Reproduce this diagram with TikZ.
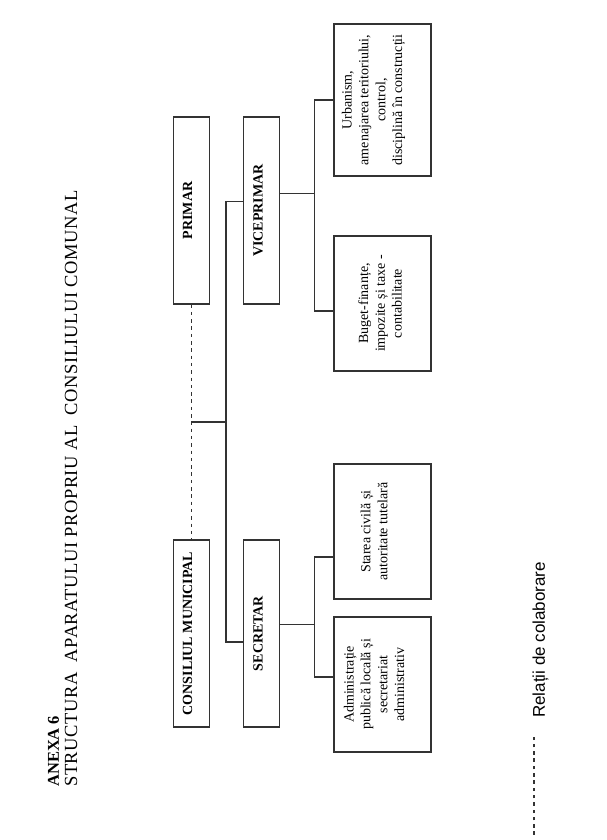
\documentclass[tikz,border=0pt]{standalone}
\usepackage{fontspec}
\setmainfont{Liberation Serif}
\newfontfamily\legendfont{Liberation Sans}
\newfontfamily\titlefont[LetterSpace=3]{Liberation Serif}
\usepackage{graphicx}
\usetikzlibrary{calc}
\newcommand{\vtext}[2][0pt]{\rotatebox{90}{\begin{tabular}{@{}c@{}}#2\\[#1]\end{tabular}}}

\begin{document}
\begin{tikzpicture}[x=1pt,y=1pt,
  hbox/.style={draw=black!80,line width=1.2pt,inner sep=0pt,minimum width=36pt,minimum height=187pt,font=\fontsize{14}{16.8}\selectfont\bfseries},
  sbox/.style={draw=black!80,line width=1.2pt,inner sep=0pt,minimum width=97pt,minimum height=135pt,font=\fontsize{14}{16.8}\selectfont},
  link/.style={draw=black!80,line width=1.2pt},
  collab/.style={link,dash pattern=on 3.5pt off 3.8pt},
  vtitle/.style={anchor=south,inner sep=0pt}]
\useasboundingbox (0,0) rectangle (607,840);
\node[vtitle,font=\fontsize{16.5}{19}\selectfont\bfseries] (anexa) at (53.5,53) {\rotatebox{90}{ANEXA 6}};
\node[vtitle,font=\titlefont\fontsize{18.5}{22}\selectfont] (titlu) at (71,53) {\rotatebox{90}{STRUCTURA\ \ APARATULUI PROPRIU AL\ \ CONSILIULUI COMUNAL}};

\node[hbox] (primar) at (191.3,629.5) {\vtext[5pt]{PRIMAR}};
\node[hbox] (vice) at (261.7,629.5) {\vtext[5pt]{VICEPRIMAR}};
\node[hbox] (consiliu) at (191.3,206.5) {\vtext[5pt]{CONSILIUL MUNICIPAL}};
\node[hbox] (secretar) at (261.7,206.5) {\vtext[5pt]{SECRETAR}};

\node[sbox,minimum height=152pt] (urb) at (382.5,740) {\vtext[18pt]{Urbanism,\\ amenajarea teritoriului,\\ control,\\ disciplină în construcții}};
\node[sbox] (buget) at (382.5,536.5) {\vtext[2pt]{Buget-finanțe,\\ impozite și taxe -\\ contabilitate}};
\node[sbox] (starea) at (382.5,308.5) {\vtext[14pt]{Starea civilă și\\ autoritate tutelară}};
\node[sbox] (admin) at (382.5,155.5) {\vtext[14pt]{Administrație\\ publică locală și\\ secretariat\\ administrativ}};

\draw[collab] (primar.south) -- (consiliu.north);
\coordinate (mid) at ($(primar.south)!.5!(consiliu.north)$);
\coordinate (bus) at ([xshift=34.7pt]mid);
\draw[link] (mid) -- (bus);
\draw[link] ([yshift=9pt]vice.west) -| (bus) |- ([yshift=-8.5pt]secretar.west);

\coordinate (vbus) at ([xshift=34pt,yshift=17pt]vice.east);
\draw[link] ([yshift=17pt]vice.east) -- (vbus);
\draw[link] (urb.west) -| (vbus) |- ([yshift=-7.5pt]buget.west);

\coordinate (sbus) at ([xshift=34pt,yshift=9pt]secretar.east);
\draw[link] ([yshift=9pt]secretar.east) -- (sbus);
\draw[link] ([yshift=-25.5pt]starea.west) -| (sbus) |- ([yshift=7.5pt]admin.west);

\coordinate (l1) at (534,5);
\coordinate (l2) at (534,107);
\draw[collab] (l1) -- (l2);
\node[vtitle,font=\legendfont\fontsize{17}{20}\selectfont] (leg) at (540.5,122) {\rotatebox{90}{Relații de colaborare}};
\end{tikzpicture}
\end{document}
